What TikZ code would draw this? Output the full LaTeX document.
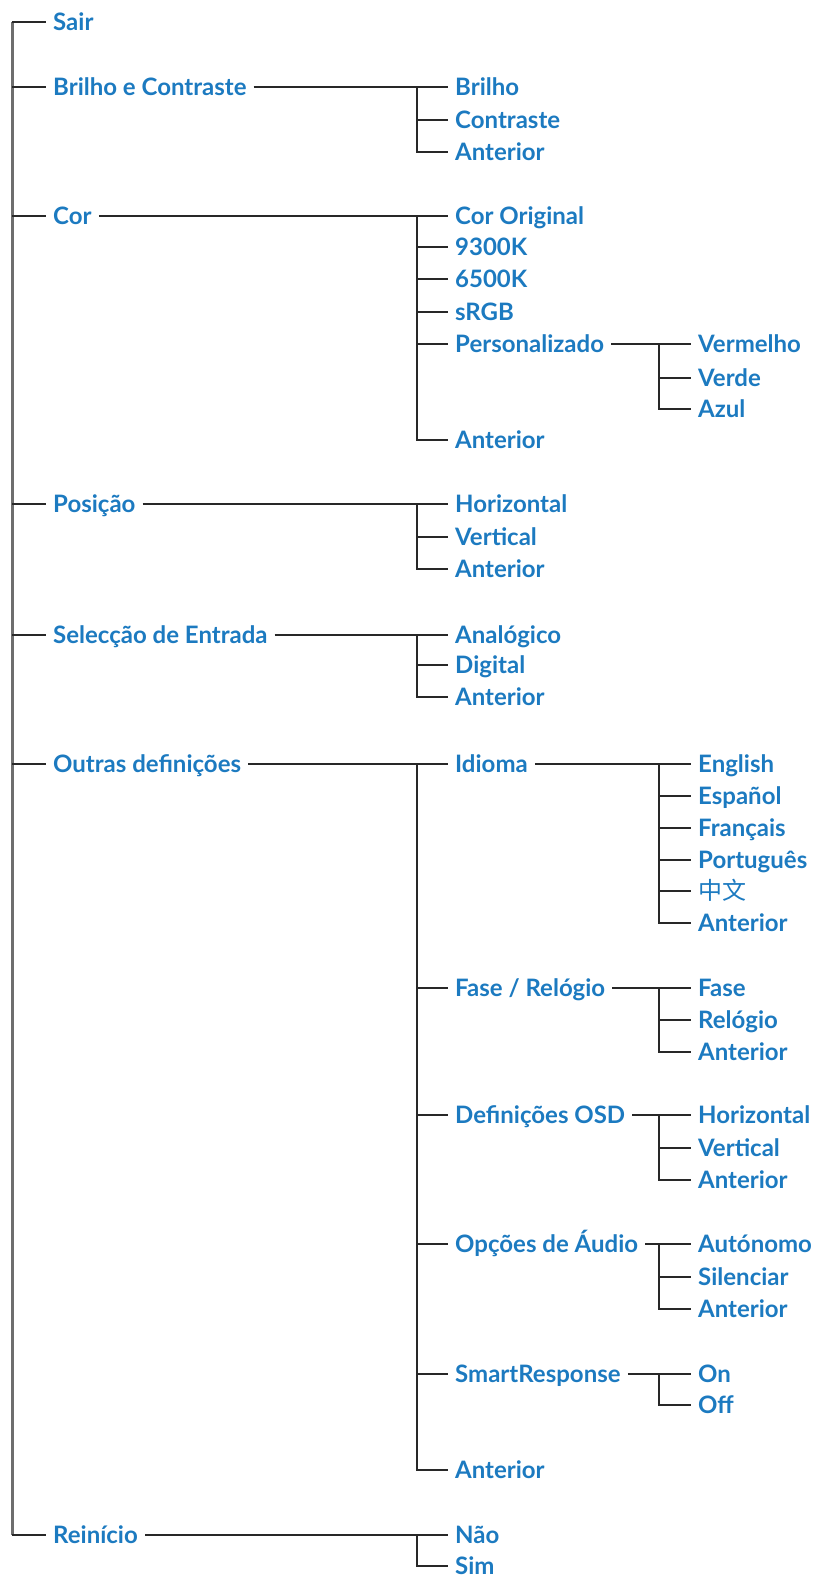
\documentclass[tikz,border=0pt]{standalone}
\usepackage{fontspec}
\setmainfont{Lato}
\newfontfamily\cjk{Noto Sans CJK SC}
\definecolor{lblue}{RGB}{28,122,192}
\definecolor{lline}{RGB}{40,40,40}
\definecolor{mline}{RGB}{110,110,110}
\tikzset{
  lab/.style={anchor=west, inner xsep=7pt, inner ysep=0pt, text height=17pt, text depth=0pt, font=\fontsize{24}{27}\selectfont\bfseries, text=lblue},
  conn/.style={draw=lline, line width=2pt},
  mainconn/.style={draw=mline, line width=3pt},
}
\begin{document}
\begin{tikzpicture}[x=1pt,y=-1pt]
\useasboundingbox (0,0) rectangle (819,1575);
\coordinate (j1) at (12,0);
\coordinate (j2) at (417,0);
\coordinate (j3) at (659,0);
% level 1
\node[lab] (sair) at (46,22.1) {Sair};
\node[lab] (bc) at (46,87.4) {Brilho e Contraste};
\node[lab] (cor) at (46,216) {Cor};
\node[lab] (pos) at (46,504.4) {Posição};
\node[lab] (sel) at (46,635) {Selecção de Entrada};
\node[lab] (out) at (46,763.6) {Outras definições};
\node[lab] (rein) at (46,1535.3) {Reinício};
% level 2
\node[lab] (bc1) at (448,87.4) {Brilho};
\node[lab] (bc2) at (448,119.6) {Contraste};
\node[lab] (bc3) at (448,151.7) {Anterior};
\node[lab] (cor1) at (448,216) {Cor Original};
\node[lab] (cor2) at (448,247.2) {9300K};
\node[lab] (cor3) at (448,279.3) {6500K};
\node[lab] (cor4) at (448,311.5) {sRGB};
\node[lab] (cor5) at (448,343.6) {Personalizado};
\node[lab] (cor6) at (448,440.1) {Anterior};
\node[lab] (pos1) at (448,504.4) {Horizontal};
\node[lab] (pos2) at (448,536.6) {Vertical};
\node[lab] (pos3) at (448,568.7) {Anterior};
\node[lab] (sel1) at (448,635) {Analógico};
\node[lab] (sel2) at (448,665.2) {Digital};
\node[lab] (sel3) at (448,697.3) {Anterior};
\node[lab] (out1) at (448,763.6) {Idioma};
\node[lab] (out2) at (448,987.7) {Fase / Relógio};
\node[lab] (out3) at (448,1115.3) {Definições OSD};
\node[lab] (out4) at (448,1243.9) {Opções de Áudio};
\node[lab] (out5) at (448,1373.6) {SmartResponse};
\node[lab] (out6) at (448,1470) {Anterior};
\node[lab] (rein1) at (448,1535.3) {Não};
\node[lab] (rein2) at (448,1565.5) {Sim};
% level 3
\node[lab] (p1) at (691,343.6) {Vermelho};
\node[lab] (p2) at (691,377.8) {Verde};
\node[lab] (p3) at (691,409) {Azul};
\node[lab] (id1) at (691,763.6) {English};
\node[lab] (id2) at (691,795.8) {Español};
\node[lab] (id3) at (691,828) {Français};
\node[lab] (id4) at (691,860.1) {Português};
\node[lab] (id5) at (691,891.3) {\cjk\mdseries 中文};
\node[lab] (id6) at (691,923.4) {Anterior};
\node[lab] (fr1) at (691,987.7) {Fase};
\node[lab] (fr2) at (691,1019.9) {Relógio};
\node[lab] (fr3) at (691,1052) {Anterior};
\node[lab] (os1) at (691,1115.3) {Horizontal};
\node[lab] (os2) at (691,1147.5) {Vertical};
\node[lab] (os3) at (691,1179.6) {Anterior};
\node[lab] (au1) at (691,1243.9) {Autónomo};
\node[lab] (au2) at (691,1277.1) {Silenciar};
\node[lab] (au3) at (691,1309.3) {Anterior};
\node[lab] (sr1) at (691,1373.6) {On};
\node[lab] (sr2) at (691,1404.7) {Off};
% main trunk
\draw[mainconn] (j1 |- sair.west) -- (j1 |- rein.west);
\foreach \n in {sair,bc,cor,pos,sel,out,rein}
  \draw[conn] (j1 |- \n.west) -- (\n.west);
% level-2 branches
\foreach \p/\f/\l/\m in {bc/bc1/bc3/{bc2},cor/cor1/cor6/{cor2,cor3,cor4,cor5},pos/pos1/pos3/{pos2},sel/sel1/sel3/{sel2},out/out1/out6/{out2,out3,out4,out5},rein/rein1/rein2/{}}{
  \draw[conn] (\p.east) -- (\f.west);
  \draw[conn] (j2 |- \f.west) |- (\l.west);
  \foreach \c in \m { \draw[conn] (j2 |- \c.west) -- (\c.west); }
}
% level-3 branches
\foreach \p/\f/\l/\m in {cor5/p1/p3/{p2},out1/id1/id6/{id2,id3,id4,id5},out2/fr1/fr3/{fr2},out3/os1/os3/{os2},out4/au1/au3/{au2},out5/sr1/sr2/{}}{
  \draw[conn] (\p.east) -- (\f.west);
  \draw[conn] (j3 |- \f.west) |- (\l.west);
  \foreach \c in \m { \draw[conn] (j3 |- \c.west) -- (\c.west); }
}
\end{tikzpicture}
\end{document}
